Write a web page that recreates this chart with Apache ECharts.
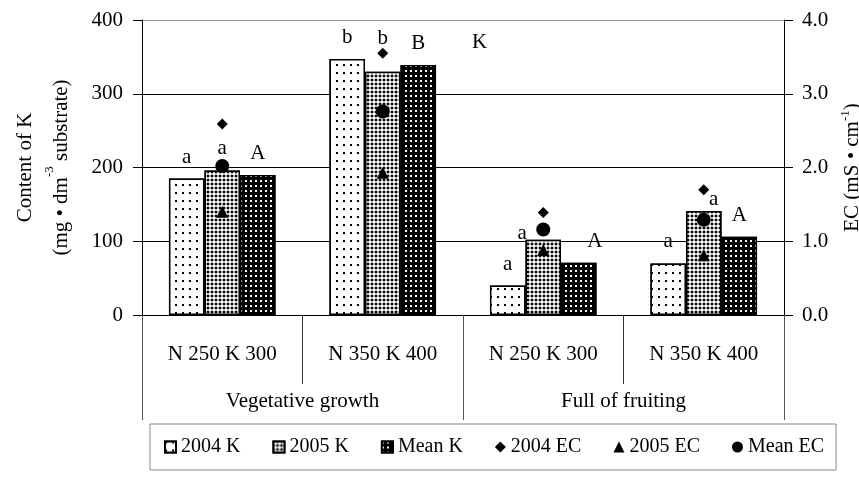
<!DOCTYPE html>
<html><head><meta charset="utf-8">
<script src="https://cdn.jsdelivr.net/npm/echarts@6/dist/echarts.min.js"></script>
<style>html,body{margin:0;padding:0;background:#fff}#c{width:859px;height:484px}</style>
</head><body><div id="c"></div>
<script>
// ---- data ----
const categories = ['N 250 K 300', 'N 350 K 400', 'N 250 K 300', 'N 350 K 400'];
const stages = ['Vegetative growth', 'Full of fruiting'];
const k2004 = [185, 347, 40, 70];
const k2005 = [196, 330, 102, 141];
const kMean = [190, 339, 71, 106];
const ec2004 = [2.59, 3.55, 1.39, 1.70];
const ec2005 = [1.40, 1.93, 0.88, 0.81];
const ecMean = [2.02, 2.76, 1.16, 1.29];
const letters2004 = ['a', 'b', 'a', 'a'];
const letters2005 = ['a', 'b', 'a', 'a'];
const lettersMean = ['A', 'B', 'A', 'A'];
const seriesNames = ['2004 K', '2005 K', 'Mean K', '2004 EC', '2005 EC', 'Mean EC'];

// ---- styling ----
const FONT = 'Liberation Serif';
const off2005 = [[0, 0], [0, -12], [-21, 15], [10, 10]];
const offMean = [[0, 0], [0, 0], [16, 0], [0, 0]];

const decalDots = { symbol: 'rect', symbolSize: 1, color: '#000', backgroundColor: '#fff', dashArrayX: [2, 5], dashArrayY: [2, 6] };
const decalCross = { symbol: 'diamond', symbolSize: 1.1, color: '#fff', backgroundColor: '#000', dashArrayX: [4, 0], dashArrayY: [4, 0] };
const decalMean = { symbol: 'rect', symbolSize: 1, color: '#fff', backgroundColor: '#000', dashArrayX: [2, 3], dashArrayY: [2, 3] };

function barSeries(name, values, letters, decal, offsets) {
  return {
    name, type: 'bar', xAxisIndex: 0, yAxisIndex: 0,
    barGap: '0%', barCategoryGap: '33.6%',
    data: values.map((v, i) => offsets ? { value: v, label: { offset: offsets[i] } } : v),
    itemStyle: { color: '#fff', borderColor: '#000', borderWidth: 1.5, decal },
    label: { show: true, position: 'top', distance: 11, color: '#000', fontFamily: FONT, fontSize: 21,
      formatter: p => letters[p.dataIndex] },
    emphasis: { disabled: true }
  };
}
function ecSeries(name, values, symbol, size) {
  return {
    name, type: 'scatter', xAxisIndex: 0, yAxisIndex: 1, symbol, symbolSize: size,
    data: values, itemStyle: { color: '#000', opacity: 1 }, z: 5, emphasis: { disabled: true }
  };
}

const chart = echarts.init(document.getElementById('c'), null, { renderer: 'canvas' });
chart.setOption({
  animation: false,
  backgroundColor: '#fff',
  grid: { left: 142, right: 75, top: 20, bottom: 169, outerBoundsMode: 'none', containLabel: false },
  legend: {
    left: 150, top: 424,
    data: [
      { name: seriesNames[0], icon: 'rect' }, { name: seriesNames[1], icon: 'rect' }, { name: seriesNames[2], icon: 'rect' },
      { name: seriesNames[3], icon: 'diamond' }, { name: seriesNames[4], icon: 'triangle' }, { name: seriesNames[5], icon: 'circle' }
    ],
    borderColor: '#888', borderWidth: 1, padding: [13, 12, 13, 14],
    itemGap: 32, itemWidth: 11, itemHeight: 11,
    textStyle: { fontFamily: FONT, fontSize: 20, color: '#000' },
    selectedMode: false
  },
  graphic: [
    { type: 'text', left: 472, top: 32, style: { text: 'K', font: '21px "Liberation Serif"', fill: '#000' } }
  ],
  xAxis: [
    {
      type: 'category', data: categories, position: 'bottom',
      axisLine: { show: true, lineStyle: { color: '#000', width: 1 } },
      axisTick: { show: true, length: 69, interval: 0, alignWithLabel: false, lineStyle: { color: '#333' } },
      axisLabel: { interval: 0, margin: 29, color: '#000', fontFamily: FONT, fontSize: 21 },
      splitLine: { show: false }
    },
    {
      type: 'category', data: stages, position: 'bottom', offset: 0,
      axisLine: { show: false },
      axisTick: { show: true, length: 105, interval: 0, alignWithLabel: false, lineStyle: { color: '#555' } },
      axisLabel: { interval: 0, margin: 76, color: '#000', fontFamily: FONT, fontSize: 21 },
      splitLine: { show: false }
    }
  ],
  yAxis: [
    {
      type: 'value', min: 0, max: 400, interval: 100, position: 'left',
      name: 'Content of K\n(mg • dm{sup|-3} substrate)', nameLocation: 'middle', nameRotate: 90, nameGap: 63,
      nameTextStyle: { color: '#000', fontFamily: FONT, fontSize: 21, lineHeight: 36,
        rich: { sup: { fontSize: 13, lineHeight: 14, verticalAlign: 'top', fontFamily: FONT, color: '#000' } } },
      axisLine: { show: true, lineStyle: { color: '#000', width: 1 } },
      axisTick: { show: true, length: 9, lineStyle: { color: '#000' } },
      axisLabel: { margin: 19, color: '#000', fontFamily: FONT, fontSize: 21 },
      splitLine: { show: true, lineStyle: { color: ['#000', '#000', '#000', '#000', '#999'], width: 1 } }
    },
    {
      type: 'value', min: 0, max: 4, interval: 1, position: 'right',
      name: 'EC (mS • cm{sup|-1})', nameLocation: 'middle', nameRotate: 90, nameGap: 52,
      nameTextStyle: { color: '#000', fontFamily: FONT, fontSize: 21, lineHeight: 26,
        rich: { sup: { fontSize: 13, lineHeight: 12, verticalAlign: 'top', fontFamily: FONT, color: '#000' } } },
      axisLine: { show: true, lineStyle: { color: '#000', width: 1 } },
      axisTick: { show: true, length: 9, lineStyle: { color: '#000' } },
      axisLabel: { margin: 18, color: '#000', fontFamily: FONT, fontSize: 21, formatter: v => v.toFixed(1) },
      splitLine: { show: false }
    }
  ],
  series: [
    barSeries(seriesNames[0], k2004, letters2004, decalDots, null),
    barSeries(seriesNames[1], k2005, letters2005, decalCross, off2005),
    barSeries(seriesNames[2], kMean, lettersMean, decalMean, offMean),
    ecSeries(seriesNames[3], ec2004, 'diamond', 11),
    ecSeries(seriesNames[4], ec2005, 'triangle', 12),
    ecSeries(seriesNames[5], ecMean, 'circle', 14)
  ]
});
</script>
</body></html>
